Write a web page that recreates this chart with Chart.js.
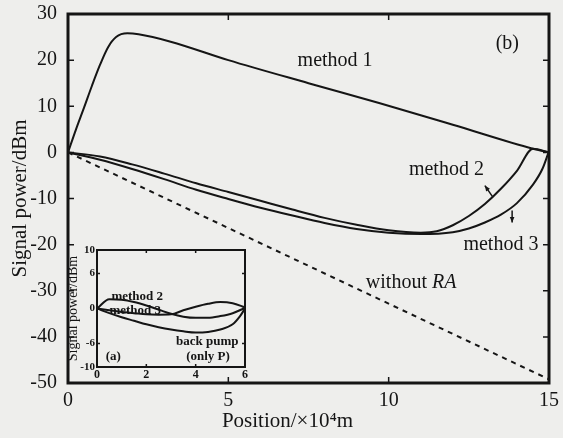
<!DOCTYPE html>
<html>
<head>
<meta charset="utf-8">
<script src="https://cdn.jsdelivr.net/npm/chart.js@4.4.0/dist/chart.umd.min.js"></script>
<style>
  html, body { margin: 0; padding: 0; background: #eeeeec; }
  #wrap { position: relative; width: 563px; height: 438px; }
  #main { position: absolute; left: 0; top: 0; }
  #inset { position: absolute; left: 58px; top: 242px; }
</style>
</head>
<body>
<div id="wrap">
  <canvas id="main" width="563" height="438"></canvas>
  <canvas id="inset" width="195" height="150"></canvas>
</div>
<script>
// main figure (b): signal power along the fibre, position in 10^4 m
var posM1 = [0, 0.25, 0.5, 0.75, 1.0, 1.25, 1.5, 1.85, 2.2, 3.2, 5, 7.5, 9.7, 12, 14.5, 15];
var powM1 = [0, 5, 9.7, 14.5, 19, 22.8, 25, 25.8, 25.6, 24, 20, 15, 10.7, 6, 0.8, 0];

var posM2 = [0, 1, 2, 3, 4, 5, 6, 7, 8, 9, 10, 11, 11.5, 12, 12.5, 13, 13.5, 14, 14.5, 15];
var powM2 = [0, -0.9, -2.6, -4.6, -6.7, -8.6, -10.5, -12.4, -14.2, -15.7, -16.9, -17.4, -17.1, -15.8, -13.8, -11.2, -7.9, -4, 0.8, 0];

var posM3 = [0, 1, 2, 3, 4, 5, 6, 7, 8, 9, 10, 11, 12, 12.5, 13, 13.5, 14, 14.5, 14.8, 15];
var powM3 = [0, -1.6, -3.6, -5.8, -8.1, -10.1, -12, -13.7, -15.3, -16.6, -17.4, -17.7, -17.3, -16.5, -15.2, -13.5, -11, -7, -3.5, 0.3];

var posNoRA = [0, 15];
var powNoRA = [0, -49.2];

var xTicksMain = [0, 5, 10, 15];
var yTicksMain = [-50, -40, -30, -20, -10, 0, 10, 20, 30];

// inset (a)
var posInset = [0, 0.5, 1, 1.5, 2, 2.5, 3, 3.5, 4, 4.5, 5, 5.5, 6];
var insM2 = [0, 1.6, 1.5, 1.1, 0.5, -0.2, -0.9, -1.4, -1.6, -1.6, -1.3, -0.8, 0.1];
var insM3 = [0, -0.3, -0.6, -0.8, -1.0, -1.05, -1.0, -0.3, 0.3, 0.8, 1.1, 0.9, 0.2];
var posBack = [0, 0.5, 1, 1.5, 2, 2.5, 3, 3.5, 4, 4.5, 5, 5.5, 5.8, 6];
var insBack = [0, -0.8, -1.5, -2.1, -2.7, -3.2, -3.6, -3.9, -4.1, -4.0, -3.6, -2.7, -1.3, 0];

var xTicksInset = [0, 2, 4, 6];
var yTicksInset = [-10, -6, 0, 6, 10];

var serif = '"Liberation Serif", "Times New Roman", serif';
var ink = '#151515';

function pts(xs, ys) {
  return xs.map(function (v, i) { return { x: v, y: ys[i] }; });
}

function line(data, dash) {
  return {
    data: data,
    borderColor: ink,
    borderWidth: 2,
    borderDash: dash || [],
    pointRadius: 0,
    fill: false,
    cubicInterpolationMode: 'monotone'
  };
}

function fixTicks(list) {
  return function (s) { s.ticks = list.map(function (v) { return { value: v }; }); };
}

// fixed axis boxes, no extra padding for overhanging labels
function fitX(h) {
  return function (s) { s.height = h; s.paddingLeft = 0; s.paddingRight = 0; };
}
function fitY(w) {
  return function (s) { s.width = w; s.paddingTop = 0; s.paddingBottom = 0; };
}

// frame with inward ticks, plus text labels and arrows at data positions
var framePlugin = {
  id: 'frame',
  afterDatasetsDraw: function (chart, args, opts) {
    var a = chart.chartArea, ctx = chart.ctx;
    var xs = chart.scales.x, ys = chart.scales.y;
    ctx.save();
    ctx.strokeStyle = ink;
    ctx.lineWidth = opts.width;
    ctx.strokeRect(a.left, a.top, a.right - a.left, a.bottom - a.top);
    ctx.lineWidth = 1.5;
    ctx.beginPath();
    xs.ticks.forEach(function (t) {
      var p = xs.getPixelForValue(t.value);
      ctx.moveTo(p, a.bottom); ctx.lineTo(p, a.bottom - opts.tick);
      ctx.moveTo(p, a.top); ctx.lineTo(p, a.top + opts.tick);
    });
    ys.ticks.forEach(function (t) {
      var p = ys.getPixelForValue(t.value);
      ctx.moveTo(a.left, p); ctx.lineTo(a.left + opts.tick, p);
      ctx.moveTo(a.right, p); ctx.lineTo(a.right - opts.tick, p);
    });
    ctx.stroke();

    ctx.fillStyle = ink;
    ctx.textBaseline = 'middle';
    (opts.labels || []).forEach(function (l) {
      var px = xs.getPixelForValue(l.x), py = ys.getPixelForValue(l.y);
      var parts = l.parts || [{ t: l.text }];
      var total = 0;
      parts.forEach(function (p) {
        ctx.font = (p.italic ? 'italic ' : '') + (opts.bold ? 'bold ' : '') + opts.size + 'px ' + serif;
        p.w = ctx.measureText(p.t).width;
        total += p.w;
      });
      var cx = px - total / 2;
      ctx.textAlign = 'left';
      parts.forEach(function (p) {
        ctx.font = (p.italic ? 'italic ' : '') + (opts.bold ? 'bold ' : '') + opts.size + 'px ' + serif;
        ctx.fillText(p.t, cx, py);
        cx += p.w;
      });
    });

    (opts.arrows || []).forEach(function (ar) {
      var x0 = xs.getPixelForValue(ar.from[0]), y0 = ys.getPixelForValue(ar.from[1]);
      var x1 = xs.getPixelForValue(ar.to[0]), y1 = ys.getPixelForValue(ar.to[1]);
      var ang = Math.atan2(y1 - y0, x1 - x0);
      ctx.lineWidth = 1.5;
      ctx.beginPath();
      ctx.moveTo(x0, y0); ctx.lineTo(x1, y1);
      ctx.stroke();
      ctx.beginPath();
      ctx.moveTo(x1, y1);
      ctx.lineTo(x1 - 6 * Math.cos(ang - 0.4), y1 - 6 * Math.sin(ang - 0.4));
      ctx.lineTo(x1 - 6 * Math.cos(ang + 0.4), y1 - 6 * Math.sin(ang + 0.4));
      ctx.closePath();
      ctx.fill();
    });
    ctx.restore();
  }
};

Chart.defaults.font.family = serif;
Chart.defaults.color = ink;

new Chart(document.getElementById('main').getContext('2d'), {
  type: 'line',
  data: {
    datasets: [
      line(pts(posM1, powM1)),
      line(pts(posM2, powM2)),
      line(pts(posM3, powM3)),
      line(pts(posNoRA, powNoRA), [5, 5])
    ]
  },
  options: {
    responsive: false,
    devicePixelRatio: 1,
    animation: false,
    layout: { padding: { left: 0, right: 14, top: 14, bottom: 0 } },
    scales: {
      x: {
        type: 'linear', min: 0, max: 15,
        afterBuildTicks: fixTicks(xTicksMain),
        afterFit: fitX(55),
        grid: { display: false, drawTicks: false },
        border: { display: false },
        ticks: { font: { size: 20 }, padding: 6, maxRotation: 0 },
        // trailing em spaces nudge the centred title a little to the left, as in the original
        title: { display: true, text: 'Position/\u00d710\u2074m\u2003\u2003', font: { size: 21 }, padding: { top: 0, bottom: 4 } }
      },
      y: {
        type: 'linear', min: -50, max: 30,
        afterBuildTicks: fixTicks(yTicksMain),
        afterFit: fitY(68),
        grid: { display: false, drawTicks: false },
        border: { display: false },
        ticks: { font: { size: 20 }, padding: 11 },
        title: { display: true, text: 'Signal power/dBm', font: { size: 21 }, padding: { top: 8, bottom: 0 } }
      }
    },
    plugins: {
      legend: { display: false },
      tooltip: { enabled: false },
      frame: {
        width: 3, tick: 6, size: 20,
        labels: [
          { x: 13.7, y: 23.5, text: '(b)' },
          { x: 8.33, y: 19.8, text: 'method 1' },
          { x: 11.8, y: -3.8, text: 'method 2' },
          { x: 13.5, y: -20, text: 'method 3' },
          { x: 10.7, y: -28.3, parts: [{ t: 'without ' }, { t: 'RA', italic: true }] }
        ],
        arrows: [
          { from: [13.25, -9.7], to: [13.0, -7.2] },
          { from: [13.85, -12.6], to: [13.85, -15.2] }
        ]
      }
    }
  },
  plugins: [framePlugin]
});

new Chart(document.getElementById('inset').getContext('2d'), {
  type: 'line',
  data: {
    datasets: [
      line(pts(posInset, insM2)),
      line(pts(posInset, insM3)),
      line(pts(posBack, insBack))
    ]
  },
  options: {
    responsive: false,
    devicePixelRatio: 1,
    animation: false,
    layout: { padding: { left: 0, right: 8, top: 8, bottom: 0 } },
    scales: {
      x: {
        type: 'linear', min: 0, max: 6,
        afterBuildTicks: fixTicks(xTicksInset),
        afterFit: fitX(25),
        grid: { display: false, drawTicks: false },
        border: { display: false },
        ticks: { font: { size: 12, weight: 'bold' }, padding: 1, maxRotation: 0 }
      },
      y: {
        type: 'linear', min: -10, max: 10,
        afterBuildTicks: fixTicks(yTicksInset),
        afterFit: fitY(39),
        grid: { display: false, drawTicks: false },
        border: { display: false },
        ticks: { font: { size: 11, weight: 'bold' }, padding: 2 },
        title: { display: true, text: 'Signal power/dBm', font: { size: 14 }, padding: { top: 7, bottom: 0 } }
      }
    },
    plugins: {
      legend: { display: false },
      tooltip: { enabled: false },
      frame: {
        width: 2, tick: 3, size: 13, bold: true,
        labels: [
          { x: 1.63, y: 2.05, text: 'method 2' },
          { x: 1.55, y: -0.35, text: 'method 3' },
          { x: 4.47, y: -5.6, text: 'back pump' },
          { x: 4.5, y: -8.2, text: '(only P)' },
          { x: 0.66, y: -8.2, text: '(a)' }
        ]
      }
    }
  },
  plugins: [framePlugin]
});
</script>
</body>
</html>
